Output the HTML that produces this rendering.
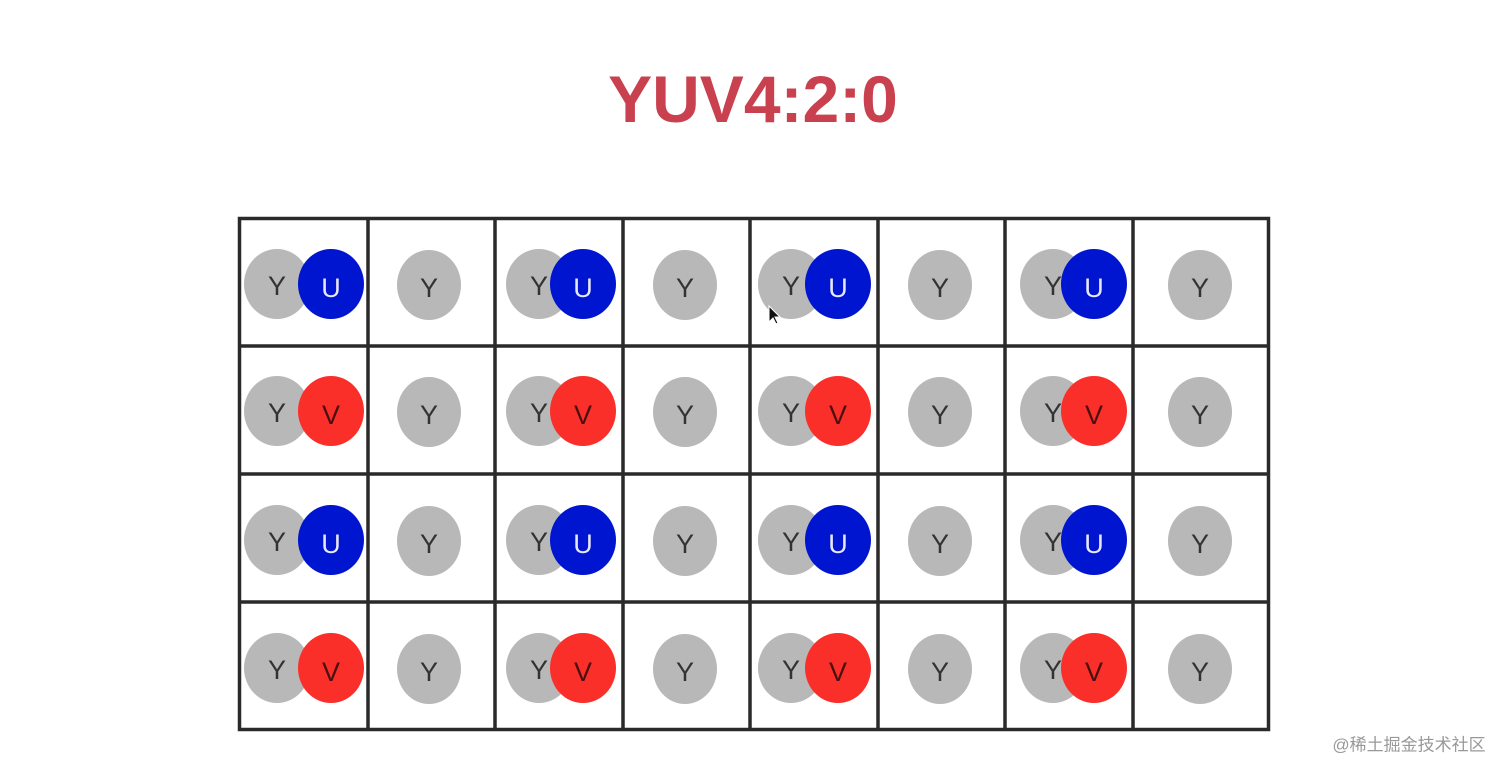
<!DOCTYPE html>
<html><head><meta charset="utf-8"><style>
html,body{margin:0;padding:0;background:#fff;width:1512px;height:777px;overflow:hidden}
svg{display:block}
.y{fill:#b8b8b8}.u{fill:#0015d0}.v{fill:#fa2f2a}
text{font-family:"Liberation Sans",sans-serif;font-size:27px;text-anchor:middle;dominant-baseline:central}
.ty{fill:#333}.tu{fill:#e8e8ff}.tv{fill:#4a1010}
</style></head><body>
<svg width="1512" height="777" xmlns="http://www.w3.org/2000/svg">
<text x="753" y="99" style="font-size:66px;font-weight:bold;fill:#c9404f">YUV4:2:0</text>
<g stroke="#2a2a2a" stroke-width="3.5" fill="none">
<rect x="239.5" y="218.5" width="1029" height="511"/>
<line x1="368" y1="218" x2="368" y2="730"/><line x1="495" y1="218" x2="495" y2="730"/>
<line x1="623" y1="218" x2="623" y2="730"/><line x1="750" y1="218" x2="750" y2="730"/>
<line x1="878" y1="218" x2="878" y2="730"/><line x1="1005" y1="218" x2="1005" y2="730"/>
<line x1="1133" y1="218" x2="1133" y2="730"/>
<line x1="239" y1="346" x2="1269" y2="346"/><line x1="239" y1="474" x2="1269" y2="474"/>
<line x1="239" y1="602" x2="1269" y2="602"/>
</g>
<!-- row 1 U -->
<g>
<ellipse class="y" cx="277" cy="284" rx="33" ry="35"/><text class="ty" x="277" y="286">Y</text>
<ellipse class="u" cx="331" cy="284" rx="33" ry="35"/><text class="tu" x="331" y="288">U</text>
<ellipse class="y" cx="429" cy="285" rx="32" ry="35"/><text class="ty" x="429" y="288">Y</text>
<ellipse class="y" cx="539" cy="284" rx="33" ry="35"/><text class="ty" x="539" y="286">Y</text>
<ellipse class="u" cx="583" cy="284" rx="33" ry="35"/><text class="tu" x="583" y="288">U</text>
<ellipse class="y" cx="685" cy="285" rx="32" ry="35"/><text class="ty" x="685" y="288">Y</text>
<ellipse class="y" cx="791" cy="284" rx="33" ry="35"/><text class="ty" x="791" y="286">Y</text>
<ellipse class="u" cx="838" cy="284" rx="33" ry="35"/><text class="tu" x="838" y="288">U</text>
<ellipse class="y" cx="940" cy="285" rx="32" ry="35"/><text class="ty" x="940" y="288">Y</text>
<ellipse class="y" cx="1053" cy="284" rx="33" ry="35"/><text class="ty" x="1053" y="286">Y</text>
<ellipse class="u" cx="1094" cy="284" rx="33" ry="35"/><text class="tu" x="1094" y="288">U</text>
<ellipse class="y" cx="1200" cy="285" rx="32" ry="35"/><text class="ty" x="1200" y="288">Y</text>
</g>
<!-- row 2 V -->
<g>
<ellipse class="y" cx="277" cy="411" rx="33" ry="35"/><text class="ty" x="277" y="413">Y</text>
<ellipse class="v" cx="331" cy="411" rx="33" ry="35"/><text class="tv" x="331" y="415">V</text>
<ellipse class="y" cx="429" cy="412" rx="32" ry="35"/><text class="ty" x="429" y="415">Y</text>
<ellipse class="y" cx="539" cy="411" rx="33" ry="35"/><text class="ty" x="539" y="413">Y</text>
<ellipse class="v" cx="583" cy="411" rx="33" ry="35"/><text class="tv" x="583" y="415">V</text>
<ellipse class="y" cx="685" cy="412" rx="32" ry="35"/><text class="ty" x="685" y="415">Y</text>
<ellipse class="y" cx="791" cy="411" rx="33" ry="35"/><text class="ty" x="791" y="413">Y</text>
<ellipse class="v" cx="838" cy="411" rx="33" ry="35"/><text class="tv" x="838" y="415">V</text>
<ellipse class="y" cx="940" cy="412" rx="32" ry="35"/><text class="ty" x="940" y="415">Y</text>
<ellipse class="y" cx="1053" cy="411" rx="33" ry="35"/><text class="ty" x="1053" y="413">Y</text>
<ellipse class="v" cx="1094" cy="411" rx="33" ry="35"/><text class="tv" x="1094" y="415">V</text>
<ellipse class="y" cx="1200" cy="412" rx="32" ry="35"/><text class="ty" x="1200" y="415">Y</text>
</g>
<!-- row 3 U -->
<g>
<ellipse class="y" cx="277" cy="540" rx="33" ry="35"/><text class="ty" x="277" y="542">Y</text>
<ellipse class="u" cx="331" cy="540" rx="33" ry="35"/><text class="tu" x="331" y="544">U</text>
<ellipse class="y" cx="429" cy="541" rx="32" ry="35"/><text class="ty" x="429" y="544">Y</text>
<ellipse class="y" cx="539" cy="540" rx="33" ry="35"/><text class="ty" x="539" y="542">Y</text>
<ellipse class="u" cx="583" cy="540" rx="33" ry="35"/><text class="tu" x="583" y="544">U</text>
<ellipse class="y" cx="685" cy="541" rx="32" ry="35"/><text class="ty" x="685" y="544">Y</text>
<ellipse class="y" cx="791" cy="540" rx="33" ry="35"/><text class="ty" x="791" y="542">Y</text>
<ellipse class="u" cx="838" cy="540" rx="33" ry="35"/><text class="tu" x="838" y="544">U</text>
<ellipse class="y" cx="940" cy="541" rx="32" ry="35"/><text class="ty" x="940" y="544">Y</text>
<ellipse class="y" cx="1053" cy="540" rx="33" ry="35"/><text class="ty" x="1053" y="542">Y</text>
<ellipse class="u" cx="1094" cy="540" rx="33" ry="35"/><text class="tu" x="1094" y="544">U</text>
<ellipse class="y" cx="1200" cy="541" rx="32" ry="35"/><text class="ty" x="1200" y="544">Y</text>
</g>
<!-- row 4 V -->
<g>
<ellipse class="y" cx="277" cy="668" rx="33" ry="35"/><text class="ty" x="277" y="670">Y</text>
<ellipse class="v" cx="331" cy="668" rx="33" ry="35"/><text class="tv" x="331" y="672">V</text>
<ellipse class="y" cx="429" cy="669" rx="32" ry="35"/><text class="ty" x="429" y="672">Y</text>
<ellipse class="y" cx="539" cy="668" rx="33" ry="35"/><text class="ty" x="539" y="670">Y</text>
<ellipse class="v" cx="583" cy="668" rx="33" ry="35"/><text class="tv" x="583" y="672">V</text>
<ellipse class="y" cx="685" cy="669" rx="32" ry="35"/><text class="ty" x="685" y="672">Y</text>
<ellipse class="y" cx="791" cy="668" rx="33" ry="35"/><text class="ty" x="791" y="670">Y</text>
<ellipse class="v" cx="838" cy="668" rx="33" ry="35"/><text class="tv" x="838" y="672">V</text>
<ellipse class="y" cx="940" cy="669" rx="32" ry="35"/><text class="ty" x="940" y="672">Y</text>
<ellipse class="y" cx="1053" cy="668" rx="33" ry="35"/><text class="ty" x="1053" y="670">Y</text>
<ellipse class="v" cx="1094" cy="668" rx="33" ry="35"/><text class="tv" x="1094" y="672">V</text>
<ellipse class="y" cx="1200" cy="669" rx="32" ry="35"/><text class="ty" x="1200" y="672">Y</text>
</g>
<path d="M769 306 L769 322 L773 318 L776 324 L778 323 L775 317 L780 317 Z" fill="#111" stroke="#fff" stroke-width="1"/>
<text x="1409" y="745" style="font-family:'Liberation Sans','Noto Sans CJK SC',sans-serif;font-size:17px;fill:#999">@稀土掘金技术社区</text>
</svg>
</body></html>
